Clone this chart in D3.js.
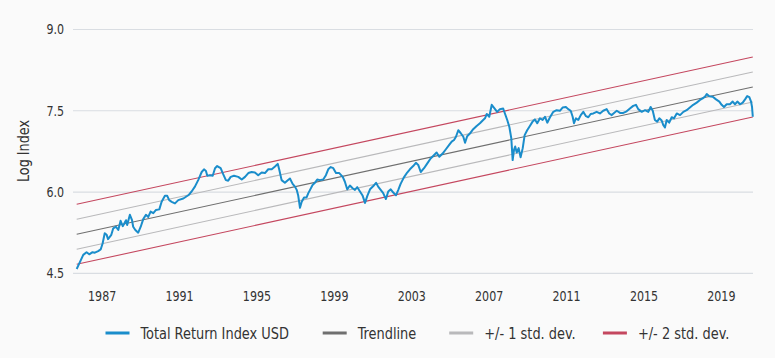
<!DOCTYPE html>
<html>
<head>
<meta charset="utf-8">
<script src="https://cdn.jsdelivr.net/npm/d3@7"></script>
<style>
  body { margin: 0; background: #fafafa; }
  text { font-family: "DejaVu Sans Condensed", "Liberation Sans Narrow", sans-serif; fill: #333; }
</style>
</head>
<body>
<div id="chart"></div>
<script>
// Log index of the total return (USD): [year, log index]
const totalReturn = [
  [1985.71,4.58],[1985.84,4.68],[1986.05,4.84],[1986.22,4.89],[1986.36,4.85],[1986.53,4.89],
  [1986.65,4.88],[1986.82,4.91],[1986.95,4.94],[1987.05,5.05],[1987.16,5.24],[1987.26,5.21],
  [1987.33,5.13],[1987.50,5.21],[1987.60,5.33],[1987.74,5.36],[1987.86,5.30],[1987.98,5.47],
  [1988.09,5.37],[1988.17,5.42],[1988.26,5.48],[1988.32,5.39],[1988.46,5.58],[1988.57,5.48],
  [1988.63,5.36],[1988.74,5.30],[1988.89,5.25],[1989.02,5.36],[1989.15,5.50],[1989.29,5.58],
  [1989.41,5.54],[1989.53,5.64],[1989.67,5.61],[1989.81,5.67],[1989.98,5.68],[1990.10,5.82],
  [1990.27,5.93],[1990.39,5.93],[1990.49,5.85],[1990.62,5.82],[1990.79,5.79],[1990.96,5.85],
  [1991.22,5.88],[1991.48,5.94],[1991.65,6.01],[1991.82,6.10],[1991.99,6.22],[1992.17,6.37],
  [1992.29,6.42],[1992.39,6.39],[1992.46,6.30],[1992.60,6.31],[1992.74,6.30],[1992.86,6.44],
  [1992.97,6.48],[1993.15,6.44],[1993.28,6.33],[1993.42,6.22],[1993.54,6.21],[1993.67,6.28],
  [1993.84,6.30],[1994.06,6.28],[1994.24,6.23],[1994.41,6.28],[1994.58,6.35],[1994.75,6.37],
  [1994.92,6.36],[1995.09,6.31],[1995.27,6.36],[1995.44,6.35],[1995.61,6.42],[1995.79,6.42],
  [1995.96,6.47],[1996.10,6.52],[1996.18,6.41],[1996.30,6.22],[1996.47,6.17],[1996.59,6.21],
  [1996.73,6.25],[1996.87,6.15],[1996.99,6.10],[1997.08,6.04],[1997.16,5.93],[1997.25,5.71],
  [1997.34,5.82],[1997.46,5.90],[1997.59,5.90],[1997.68,5.98],[1997.77,6.04],[1997.90,6.13],
  [1998.02,6.17],[1998.14,6.23],[1998.28,6.22],[1998.45,6.23],[1998.59,6.31],[1998.71,6.42],
  [1998.84,6.46],[1998.97,6.44],[1999.11,6.35],[1999.28,6.35],[1999.46,6.28],[1999.57,6.19],
  [1999.69,6.05],[1999.83,6.12],[1999.97,6.07],[2000.09,6.04],[2000.21,6.09],[2000.35,6.01],
  [2000.49,5.93],[2000.61,5.80],[2000.73,5.93],[2000.87,6.05],[2001.04,6.11],[2001.18,6.17],
  [2001.29,6.10],[2001.42,6.04],[2001.55,5.98],[2001.69,5.87],[2001.81,6.01],[2001.94,6.05],
  [2002.07,5.99],[2002.21,5.94],[2002.33,6.04],[2002.45,6.15],[2002.62,6.27],[2002.79,6.36],
  [2002.93,6.42],[2003.10,6.48],[2003.24,6.54],[2003.36,6.50],[2003.49,6.37],[2003.66,6.44],
  [2003.83,6.53],[2004.00,6.62],[2004.17,6.68],[2004.31,6.73],[2004.45,6.65],[2004.62,6.71],
  [2004.79,6.79],[2004.96,6.87],[2005.09,6.93],[2005.21,6.96],[2005.31,7.02],[2005.43,7.14],
  [2005.55,7.09],[2005.69,7.02],[2005.78,6.91],[2005.89,7.03],[2006.03,7.08],[2006.20,7.16],
  [2006.38,7.22],[2006.55,7.27],[2006.69,7.32],[2006.81,7.36],[2006.90,7.44],[2007.03,7.39],
  [2007.16,7.61],[2007.27,7.56],[2007.44,7.48],[2007.58,7.53],[2007.75,7.54],[2007.84,7.45],
  [2007.96,7.33],[2008.07,7.20],[2008.17,6.99],[2008.24,6.59],[2008.31,6.78],[2008.37,6.84],
  [2008.45,6.73],[2008.55,6.81],[2008.65,6.64],[2008.76,6.81],[2008.86,7.05],[2008.99,7.14],
  [2009.13,7.22],[2009.27,7.30],[2009.39,7.34],[2009.51,7.27],[2009.65,7.36],[2009.79,7.33],
  [2009.91,7.39],[2010.03,7.28],[2010.17,7.38],[2010.34,7.48],[2010.51,7.51],[2010.68,7.50],
  [2010.82,7.56],[2010.99,7.57],[2011.11,7.53],[2011.24,7.50],[2011.34,7.39],[2011.41,7.27],
  [2011.51,7.36],[2011.63,7.33],[2011.76,7.42],[2011.89,7.48],[2012.03,7.40],[2012.15,7.38],
  [2012.27,7.44],[2012.41,7.45],[2012.58,7.48],[2012.75,7.45],[2012.92,7.50],[2013.10,7.53],
  [2013.23,7.45],[2013.36,7.42],[2013.48,7.46],[2013.62,7.50],[2013.79,7.46],[2013.96,7.46],
  [2014.13,7.49],[2014.30,7.54],[2014.47,7.59],[2014.61,7.61],[2014.73,7.53],[2014.91,7.48],
  [2015.08,7.51],[2015.25,7.48],[2015.37,7.57],[2015.48,7.50],[2015.59,7.33],[2015.71,7.30],
  [2015.82,7.36],[2015.94,7.32],[2016.02,7.24],[2016.11,7.19],[2016.20,7.33],[2016.33,7.28],
  [2016.46,7.38],[2016.58,7.36],[2016.72,7.45],[2016.89,7.42],[2017.06,7.48],[2017.23,7.51],
  [2017.40,7.56],[2017.57,7.61],[2017.75,7.65],[2017.92,7.70],[2018.06,7.73],[2018.18,7.76],
  [2018.27,7.81],[2018.40,7.77],[2018.58,7.76],[2018.75,7.71],[2018.92,7.67],[2019.04,7.61],
  [2019.16,7.57],[2019.30,7.62],[2019.47,7.62],[2019.61,7.67],[2019.73,7.62],[2019.85,7.67],
  [2019.99,7.62],[2020.13,7.65],[2020.25,7.71],[2020.36,7.77],[2020.47,7.75],[2020.56,7.67],
  [2020.61,7.57],[2020.65,7.39]
];

// Trendline end points and the standard deviation of the residuals
const trendline = [[1985.71, 5.22], [2020.65, 7.94]];
const stdDev = 0.277;
const bands = [-2, -1, 0, 1, 2];

const yTicks = [4.5, 6.0, 7.5, 9.0];
const xTicks = [1987, 1991, 1995, 1999, 2003, 2007, 2011, 2015, 2019];

const legendItems = [
  { label: "Total Return Index USD", color: "#1a8dcb" },
  { label: "Trendline", color: "#6f6f6f" },
  { label: "+/- 1 std. dev.", color: "#b9b9bb" },
  { label: "+/- 2 std. dev.", color: "#c4475f" }
];

const width = 775, height = 358;
const squeeze = 0.88; // the original face is a condensed one

const svg = d3.select("#chart")
  .append("svg")
  .attr("width", width)
  .attr("height", height);

svg.append("rect")
  .attr("width", width)
  .attr("height", height)
  .attr("fill", "#fafafa");

// Scales
const x = d3.scaleLinear()
  .domain([1985.52, 2020.66])
  .range([73, 753]);

const y = d3.scaleLinear()
  .domain([4.5, 9.0])
  .range([273.3, 29.5]);

// Horizontal gridlines
svg.append("g")
  .selectAll("line")
  .data(yTicks)
  .enter()
  .append("line")
  .attr("x1", x.range()[0])
  .attr("x2", x.range()[1])
  .attr("y1", d => y(d))
  .attr("y2", d => y(d))
  .attr("stroke", "#d9dde2")
  .attr("stroke-width", 1.2);

// Y axis labels
const yAxis = svg.append("g")
  .attr("transform", `translate(${x.range()[0]},0)`)
  .call(d3.axisLeft(y).tickValues(yTicks).tickFormat(d3.format(".1f")).tickSize(0).tickPadding(9));
yAxis.select(".domain").remove();
yAxis.selectAll("text")
  .attr("font-size", "14px")
  .attr("fill", "#333")
  .attr("x", -9 / squeeze)
  .attr("transform", `scale(${squeeze},1)`);

// X axis labels
const xAxis = svg.append("g")
  .attr("transform", `translate(0,${y.range()[0]})`)
  .call(d3.axisBottom(x).tickValues(xTicks).tickFormat(d3.format("d")).tickSize(0).tickPadding(18));
xAxis.select(".domain").remove();
xAxis.selectAll("text")
  .attr("font-size", "14px")
  .attr("fill", "#333")
  .attr("transform", `scale(${squeeze},1)`);
svg.selectAll(".tick").attr("font-family", null);

// Y axis title
svg.append("text")
  .attr("transform", `translate(29,151) rotate(-90) scale(0.95,1)`)
  .style("text-anchor", "middle")
  .attr("font-size", "15px")
  .text("Log Index");

// Trendline and std. dev. bands
const straight = d3.line()
  .x(d => x(d[0]))
  .y(d => y(d[1]));

bands.forEach(k => {
  const color = k === 0 ? legendItems[1].color : (Math.abs(k) === 1 ? legendItems[2].color : legendItems[3].color);
  svg.append("path")
    .datum(trendline.map(d => [d[0], d[1] + k * stdDev]))
    .attr("d", straight)
    .attr("fill", "none")
    .attr("stroke", color)
    .attr("stroke-width", 1.1);
});

// Total return line
svg.append("path")
  .datum(totalReturn)
  .attr("d", straight)
  .attr("fill", "none")
  .attr("stroke", legendItems[0].color)
  .attr("stroke-width", 2)
  .attr("stroke-linejoin", "round");

// Legend
const legendX = [105.5, 322.7, 449.2, 602.9];
const legend = svg.append("g").attr("transform", "translate(0,333)");
legendItems.forEach((item, i) => {
  legend.append("line")
    .attr("x1", legendX[i])
    .attr("x2", legendX[i] + 24)
    .attr("y1", 0)
    .attr("y2", 0)
    .attr("stroke", item.color)
    .attr("stroke-width", 3);
  legend.append("text")
    .attr("transform", `translate(${legendX[i] + 35},0) scale(0.9,1)`)
    .attr("dy", "0.35em")
    .attr("font-size", "16px")
    .text(item.label);
});
</script>
</body>
</html>
